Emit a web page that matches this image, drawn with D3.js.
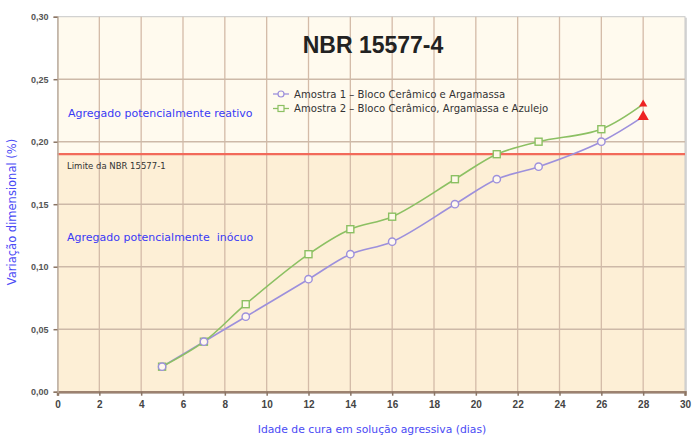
<!DOCTYPE html>
<html><head><meta charset="utf-8">
<script src="https://cdn.jsdelivr.net/npm/d3@7"></script>
<style>
html,body{margin:0;padding:0;background:#fff;}
svg{display:block;font-family:"Liberation Sans",Arial,sans-serif;}
</style></head>
<body><svg id="c" width="693" height="436"></svg>
<script>
const days = [5, 7, 9, 12, 14, 16, 19, 21, 23, 26, 28];
const amostra1 = [0.02, 0.04, 0.06, 0.09, 0.11, 0.12, 0.15, 0.17, 0.18, 0.20, 0.22];
const amostra2 = [0.02, 0.04, 0.07, 0.11, 0.13, 0.14, 0.17, 0.19, 0.20, 0.21, 0.23];
const seriesNames = ["Amostra 1 – Bloco Cerâmico e Argamassa", "Amostra 2 – Bloco Cerâmico, Argamassa e Azulejo"];
const limitValue = 0.19;
const xTicks = [0,2,4,6,8,10,12,14,16,18,20,22,24,26,28,30];
const yTicks = [0,0.05,0.10,0.15,0.20,0.25,0.30];

const svg = d3.select("#c");
const L = 57.5, R = 685, T = 16.7, B = 391.7;
const x = d3.scaleLinear().domain([0,30]).range([L,R]);
const y = d3.scaleLinear().domain([0,0.30]).range([B,T]);
const sans = "'DejaVu Sans', Verdana, sans-serif";

// frame shadow
svg.append("rect").attr("x",L+1).attr("y",T+1).attr("width",R-L+1).attr("height",B-T+1).attr("fill","#d8d8d8");
// backgrounds
svg.append("rect").attr("x",L).attr("y",T).attr("width",R-L).attr("height",y(limitValue)-T).attr("fill","#fffaee");
svg.append("rect").attr("x",L).attr("y",y(limitValue)).attr("width",R-L).attr("height",B-y(limitValue)).attr("fill","#fdefd6");
svg.append("rect").attr("x",L).attr("y",T).attr("width",R-L).attr("height",B-T).attr("fill","none").attr("stroke","#c8c8c8").attr("stroke-width",1);

// grid
const g = svg.append("g");
g.selectAll("line.v").data(xTicks.slice(1,-1)).enter().append("line")
 .attr("x1",d=>x(d)).attr("x2",d=>x(d)).attr("y1",T).attr("y2",B)
 .attr("stroke","#d4bba8").attr("stroke-width",1.3);
g.selectAll("line.h").data(yTicks.slice(1,-1)).enter().append("line")
 .attr("x1",L).attr("x2",R).attr("y1",d=>y(d)).attr("y2",d=>y(d))
 .attr("stroke","#cdb9a8").attr("stroke-width",1.5);

// limit line
svg.append("line").attr("x1",L).attr("x2",R).attr("y1",y(limitValue)).attr("y2",y(limitValue))
 .attr("stroke","#f26a5a").attr("stroke-width",2.2);

// axes
const xAxis = svg.append("g").attr("transform",`translate(0,${B})`)
 .call(d3.axisBottom(x).tickValues(xTicks).tickSize(4).tickFormat(d3.format("d")));
xAxis.select(".domain").attr("stroke","#9c8270").attr("stroke-width",2.5);
xAxis.selectAll(".tick line").attr("stroke","#8a7464").attr("stroke-width",1.5);
xAxis.selectAll("text").attr("font-size",10).attr("font-weight","bold").attr("fill","#444").attr("dy","0.9em");

const yAxis = svg.append("g").attr("transform",`translate(${L},0)`)
 .call(d3.axisLeft(y).tickValues(yTicks).tickSize(4).tickFormat(d=>d3.format(".2f")(d).replace(".",",")));
yAxis.select(".domain").attr("stroke","#c0b0a0").attr("stroke-width",1.5);
yAxis.selectAll(".tick line").attr("stroke","#8a7464").attr("stroke-width",1.5);
yAxis.selectAll("text").attr("font-size",9).attr("font-weight","bold").attr("fill","#555").attr("dx","-2");

// series
const c1 = "#9d90dc", c2 = "#8cc063";
const line = d3.line().x(d=>x(d[0])).y(d=>y(d[1])).curve(d3.curveCatmullRom.alpha(0.5));
const s1 = days.map((d,i)=>[d,amostra1[i]]);
const s2 = days.map((d,i)=>[d,amostra2[i]]);
svg.append("path").datum(s1).attr("d",line).attr("fill","none").attr("stroke",c1).attr("stroke-width",1.6);
svg.append("path").datum(s2).attr("d",line).attr("fill","none").attr("stroke",c2).attr("stroke-width",1.6);

svg.selectAll("rect.m2").data(s2.slice(0,-1)).enter().append("rect")
 .attr("x",d=>x(d[0])-3.5).attr("y",d=>y(d[1])-3.5).attr("width",7).attr("height",7)
 .attr("fill","#fff8e8").attr("stroke",c2).attr("stroke-width",1.4);
svg.selectAll("circle.m1").data(s1.slice(0,-1)).enter().append("circle")
 .attr("cx",d=>x(d[0])).attr("cy",d=>y(d[1])).attr("r",3.7)
 .attr("fill","#fff8ee").attr("stroke",c1).attr("stroke-width",1.4);

// red end triangles
const tri = d3.symbol().type(d3.symbolTriangle);
const last1 = s1[s1.length-1], last2 = s2[s2.length-1];
svg.append("path").attr("d",tri.size(55)()).attr("transform",`translate(${x(last1[0])},${y(last1[1])})`).attr("fill","#ee2222");
svg.append("path").attr("d",tri.size(30)()).attr("transform",`translate(${x(last2[0])},${y(last2[1])})`).attr("fill","#ee2222");

// title
svg.append("text").attr("x",373).attr("y",53).attr("text-anchor","middle")
 .attr("font-size",23).attr("font-weight","bold").attr("fill","#222").text("NBR 15577-4");

// legend
const leg = svg.append("g");
[[c1,"circle"],[c2,"rect"]].forEach((m,i)=>{
  const yy = 94 + i*14.5;
  leg.append("line").attr("x1",273).attr("x2",289).attr("y1",yy).attr("y2",yy).attr("stroke",m[0]).attr("stroke-width",1.3);
  if(m[1]==="circle") leg.append("circle").attr("cx",281).attr("cy",yy).attr("r",3).attr("fill","#fffaee").attr("stroke",m[0]).attr("stroke-width",1.2);
  else leg.append("rect").attr("x",278).attr("y",yy-3).attr("width",6).attr("height",6).attr("fill","#fffaee").attr("stroke",m[0]).attr("stroke-width",1.2);
  leg.append("text").attr("x",294).attr("y",yy+3.5).attr("font-family",sans).attr("font-size",10.1).attr("fill","#333").text(seriesNames[i]);
});

// annotations
svg.append("text").attr("x",68).attr("y",117).attr("font-family",sans).attr("font-size",11).attr("fill","#3a3af5").text("Agregado potencialmente reativo");
svg.append("text").attr("x",67).attr("y",169).attr("font-family",sans).attr("font-size",8.5).attr("fill","#333").text("Limite da NBR 15577-1");
svg.append("text").attr("x",67).attr("y",241).attr("font-family",sans).attr("font-size",11).attr("fill","#3a3af5").attr("xml:space","preserve").text("Agregado potencialmente  inócuo");

// axis titles
svg.append("text").attr("transform","translate(16,212) rotate(-90)").attr("text-anchor","middle")
 .attr("font-family",sans).attr("font-size",11.5).attr("fill","#4a4af5").text("Variação dimensional (%)");
svg.append("text").attr("x",372).attr("y",433).attr("text-anchor","middle")
 .attr("font-family",sans).attr("font-size",10.8).attr("fill","#4a4af5").text("Idade de cura em solução agressiva (dias)");
</script></body></html>
